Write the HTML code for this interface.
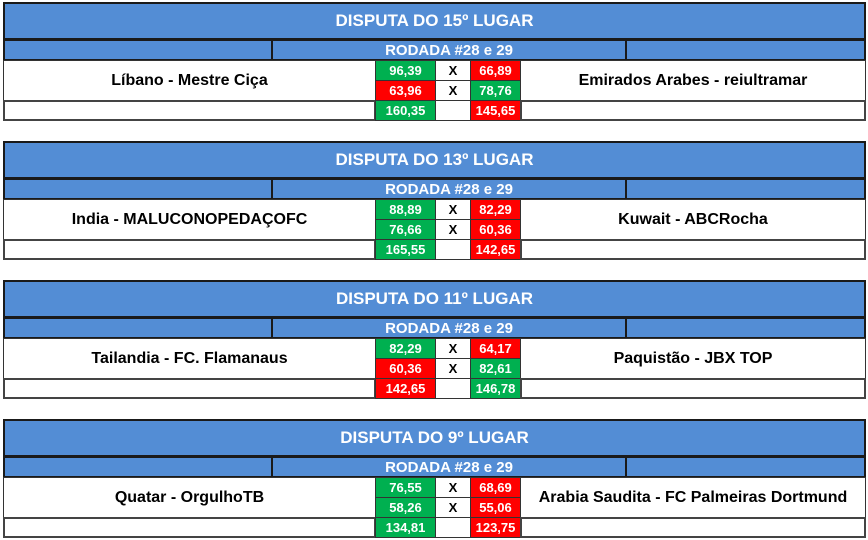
<!DOCTYPE html>
<html><head><meta charset="utf-8"><style>
body{margin:0;width:868px;height:540px;background:#fff;font-family:"Liberation Sans",sans-serif;font-weight:bold;position:relative;overflow:hidden}
.b{position:absolute;left:3px;width:863px;height:120px}
.c{position:absolute;box-sizing:border-box;display:flex;align-items:center;justify-content:center;white-space:nowrap}
.t{left:0;top:0;width:863px;height:38px;background:#538dd5;color:#fff;font-size:17px;border:2px solid #1a1a1a}
.s{top:37px;height:22px;background:#538dd5;border:2px solid #1a1a1a;color:#fff;font-size:15px}
.w{background:#fff;border:1px solid #333;color:#000}
.g{background:#00b050;color:#fff;font-size:13px;border:1px solid #333}
.r{background:#ff0000;color:#fff;font-size:13px;border:1px solid #333}
.n{font-size:16px}
</style></head><body>

<div class="b" style="top:2px">
<div class="c t">DISPUTA DO 15º LUGAR</div>
<div class="c s" style="left:0;width:270px"></div><div class="c s" style="left:268px;width:356px">RODADA #28 e 29</div><div class="c s" style="left:622px;width:241px"></div>
<div class="c w n" style="left:0;top:58px;width:373px;height:41px">Líbano - Mestre Ciça</div>
<div class="c g" style="left:372px;top:58px;width:61px;height:21px">96,39</div>
<div class="c w" style="left:432px;top:58px;width:36px;height:21px;font-size:13px">X</div>
<div class="c r" style="left:467px;top:58px;width:51px;height:21px">66,89</div>
<div class="c r" style="left:372px;top:78px;width:61px;height:21px">63,96</div>
<div class="c w" style="left:432px;top:78px;width:36px;height:21px;font-size:13px">X</div>
<div class="c g" style="left:467px;top:78px;width:51px;height:21px">78,76</div>
<div class="c w n" style="left:517px;top:58px;width:346px;height:41px">Emirados Arabes - reiultramar</div>
<div class="c w" style="left:0;top:98px;width:373px;height:21px;border:2px solid #444"></div>
<div class="c g" style="left:372px;top:98px;width:61px;height:21px">160,35</div>
<div class="c w" style="left:432px;top:98px;width:36px;height:21px"></div>
<div class="c r" style="left:467px;top:98px;width:51px;height:21px">145,65</div>
<div class="c w" style="left:517px;top:98px;width:346px;height:21px;border:2px solid #444"></div>
</div>

<div class="b" style="top:141px">
<div class="c t">DISPUTA DO 13º LUGAR</div>
<div class="c s" style="left:0;width:270px"></div><div class="c s" style="left:268px;width:356px">RODADA #28 e 29</div><div class="c s" style="left:622px;width:241px"></div>
<div class="c w n" style="left:0;top:58px;width:373px;height:41px">India - MALUCONOPEDAÇOFC</div>
<div class="c g" style="left:372px;top:58px;width:61px;height:21px">88,89</div>
<div class="c w" style="left:432px;top:58px;width:36px;height:21px;font-size:13px">X</div>
<div class="c r" style="left:467px;top:58px;width:51px;height:21px">82,29</div>
<div class="c g" style="left:372px;top:78px;width:61px;height:21px">76,66</div>
<div class="c w" style="left:432px;top:78px;width:36px;height:21px;font-size:13px">X</div>
<div class="c r" style="left:467px;top:78px;width:51px;height:21px">60,36</div>
<div class="c w n" style="left:517px;top:58px;width:346px;height:41px">Kuwait - ABCRocha</div>
<div class="c w" style="left:0;top:98px;width:373px;height:21px;border:2px solid #444"></div>
<div class="c g" style="left:372px;top:98px;width:61px;height:21px">165,55</div>
<div class="c w" style="left:432px;top:98px;width:36px;height:21px"></div>
<div class="c r" style="left:467px;top:98px;width:51px;height:21px">142,65</div>
<div class="c w" style="left:517px;top:98px;width:346px;height:21px;border:2px solid #444"></div>
</div>

<div class="b" style="top:280px">
<div class="c t">DISPUTA DO 11º LUGAR</div>
<div class="c s" style="left:0;width:270px"></div><div class="c s" style="left:268px;width:356px">RODADA #28 e 29</div><div class="c s" style="left:622px;width:241px"></div>
<div class="c w n" style="left:0;top:58px;width:373px;height:41px">Tailandia - FC. Flamanaus</div>
<div class="c g" style="left:372px;top:58px;width:61px;height:21px">82,29</div>
<div class="c w" style="left:432px;top:58px;width:36px;height:21px;font-size:13px">X</div>
<div class="c r" style="left:467px;top:58px;width:51px;height:21px">64,17</div>
<div class="c r" style="left:372px;top:78px;width:61px;height:21px">60,36</div>
<div class="c w" style="left:432px;top:78px;width:36px;height:21px;font-size:13px">X</div>
<div class="c g" style="left:467px;top:78px;width:51px;height:21px">82,61</div>
<div class="c w n" style="left:517px;top:58px;width:346px;height:41px">Paquistão - JBX TOP</div>
<div class="c w" style="left:0;top:98px;width:373px;height:21px;border:2px solid #444"></div>
<div class="c r" style="left:372px;top:98px;width:61px;height:21px">142,65</div>
<div class="c w" style="left:432px;top:98px;width:36px;height:21px"></div>
<div class="c g" style="left:467px;top:98px;width:51px;height:21px">146,78</div>
<div class="c w" style="left:517px;top:98px;width:346px;height:21px;border:2px solid #444"></div>
</div>

<div class="b" style="top:419px">
<div class="c t">DISPUTA DO 9º LUGAR</div>
<div class="c s" style="left:0;width:270px"></div><div class="c s" style="left:268px;width:356px">RODADA #28 e 29</div><div class="c s" style="left:622px;width:241px"></div>
<div class="c w n" style="left:0;top:58px;width:373px;height:41px">Quatar - OrgulhoTB</div>
<div class="c g" style="left:372px;top:58px;width:61px;height:21px">76,55</div>
<div class="c w" style="left:432px;top:58px;width:36px;height:21px;font-size:13px">X</div>
<div class="c r" style="left:467px;top:58px;width:51px;height:21px">68,69</div>
<div class="c g" style="left:372px;top:78px;width:61px;height:21px">58,26</div>
<div class="c w" style="left:432px;top:78px;width:36px;height:21px;font-size:13px">X</div>
<div class="c r" style="left:467px;top:78px;width:51px;height:21px">55,06</div>
<div class="c w n" style="left:517px;top:58px;width:346px;height:41px">Arabia Saudita - FC Palmeiras Dortmund</div>
<div class="c w" style="left:0;top:98px;width:373px;height:21px;border:2px solid #444"></div>
<div class="c g" style="left:372px;top:98px;width:61px;height:21px">134,81</div>
<div class="c w" style="left:432px;top:98px;width:36px;height:21px"></div>
<div class="c r" style="left:467px;top:98px;width:51px;height:21px">123,75</div>
<div class="c w" style="left:517px;top:98px;width:346px;height:21px;border:2px solid #444"></div>
</div>

</body></html>
